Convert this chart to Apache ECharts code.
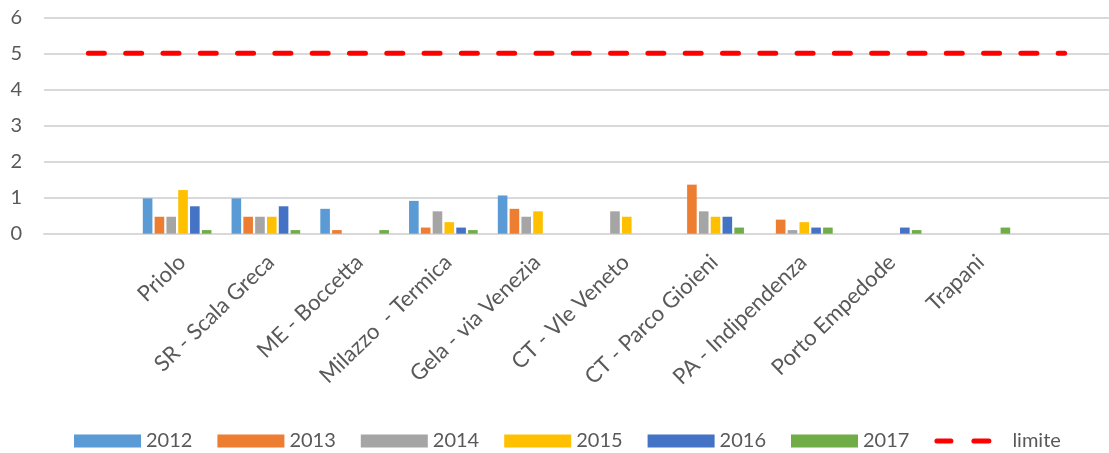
<!DOCTYPE html>
<html>
<head>
<meta charset="utf-8">
<script src="https://cdn.jsdelivr.net/npm/echarts@6/dist/echarts.min.js"></script>
<style>
  html, body { margin: 0; padding: 0; background: #fff; }
  #chart { width: 1109px; height: 453px; }
</style>
</head>
<body>
<div id="chart"></div>
<script>
// Stations (blank slots pad the axis on both sides)
const categories = ['', 'Priolo', 'SR - Scala Greca', 'ME - Boccetta', 'Milazzo  - Termica',
  'Gela - via Venezia', 'CT - Vle Veneto', 'CT - Parco Gioieni', 'PA - Indipendenza',
  'Porto Empedode', 'Trapani', ''];

// Annual means per station
const y2012 = [null, 0.98, 0.98, 0.69, 0.91, 1.06, null, null, null, null, null, null];
const y2013 = [null, 0.47, 0.47, 0.1, 0.17, 0.69, null, 1.36, 0.39, null, null, null];
const y2014 = [null, 0.47, 0.47, null, 0.62, 0.47, 0.62, 0.62, 0.1, null, null, null];
const y2015 = [null, 1.21, 0.47, null, 0.32, 0.62, 0.47, 0.47, 0.32, null, null, null];
const y2016 = [null, 0.76, 0.76, null, 0.17, null, null, 0.47, 0.17, 0.17, null, null];
const y2017 = [null, 0.1, 0.1, 0.1, 0.1, null, null, 0.17, 0.17, 0.1, 0.17, null];

// Threshold value
const limite = [5, 5, 5, 5, 5, 5, 5, 5, 5, 5, 5, 5];

const yTicks = { min: 0, max: 6, interval: 1 };

const seriesNames = ['2012', '2013', '2014', '2015', '2016', '2017'];
const seriesData = [y2012, y2013, y2014, y2015, y2016, y2017];
const colors = ['#5B9BD5', '#ED7D31', '#A5A5A5', '#FFC000', '#4472C4', '#70AD47'];

const FONT = 'Lato';
const TEXT = '#595959';

// Two rounded dashes inside a 67x13 legend box
const dashIcon = 'path://M0,0M67,13' +
  'M2.5,4H16.5A2.5,2.5,0,0,1,16.5,9H2.5A2.5,2.5,0,0,1,2.5,4Z' +
  'M39.5,4H54.5A2.5,2.5,0,0,1,54.5,9H39.5A2.5,2.5,0,0,1,39.5,4Z';

const chart = echarts.init(document.getElementById('chart'), null, { renderer: 'canvas' });

const bars = seriesNames.map((name, i) => ({
  name: name,
  type: 'bar',
  data: seriesData[i],
  barWidth: 9.6,
  barGap: '23%',
  itemStyle: { color: colors[i] },
  emphasis: { disabled: true }
}));

chart.setOption({
  animation: false,
  grid: { left: 44, top: 17.3, width: 1068, height: 216.4, containLabel: false },
  xAxis: {
    type: 'category',
    data: categories,
    boundaryGap: true,
    axisLine: { lineStyle: { color: '#d9d9d9', width: 2 } },
    axisTick: { show: false },
    axisLabel: {
      interval: 0,
      rotate: 44,
      margin: 20,
      verticalAlign: 'top',
      lineHeight: 14,
      color: TEXT,
      fontFamily: FONT,
      fontSize: 22
    }
  },
  yAxis: {
    type: 'value',
    min: yTicks.min,
    max: yTicks.max,
    interval: yTicks.interval,
    axisLine: { show: false },
    axisTick: { show: false },
    splitLine: { lineStyle: { color: '#d9d9d9', width: 2 } },
    axisLabel: { margin: 22, color: TEXT, fontFamily: FONT, fontSize: 20 }
  },
  legend: {
    left: 74,
    top: 431,
    padding: 0,
    itemWidth: 67,
    itemHeight: 13,
    itemGap: 25,
    symbolKeepAspect: true,
    textStyle: { color: TEXT, fontFamily: FONT, fontSize: 20, width: 48 },
    data: seriesNames.map(n => ({ name: n, icon: 'rect' })).concat([{
      name: 'limite',
      icon: dashIcon,
      itemStyle: { color: '#FF0000', borderWidth: 0 },
      textStyle: { padding: [0, 0, 0, 6] }
    }])
  },
  series: bars.concat([{
    name: 'limite',
    type: 'line',
    data: limite,
    symbol: 'none',
    lineStyle: { color: '#FF0000', width: 5, type: [16, 21.3], cap: 'round' },
    itemStyle: { color: '#FF0000' },
    z: 5
  }])
});
</script>
</body>
</html>
